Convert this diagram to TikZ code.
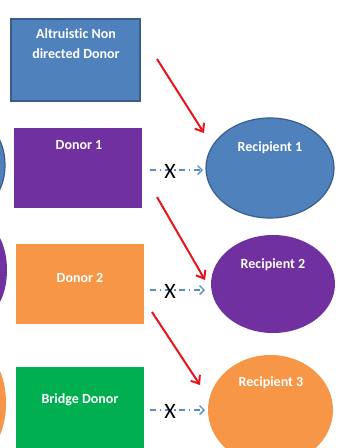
\documentclass[tikz,border=0pt]{standalone}
\usepackage{fontspec}
\setmainfont[Ligatures=NoCommon]{Carlito}
\usetikzlibrary{arrows.meta,shapes.geometric}
\definecolor{cblue}{HTML}{4F81BD}
\definecolor{cblueline}{HTML}{385D8A}
\definecolor{cpurple}{HTML}{7030A0}
\definecolor{corange}{HTML}{F79646}
\definecolor{cgreen}{HTML}{00B050}
\definecolor{cred}{HTML}{E8141C}
\definecolor{cdash}{HTML}{5A8CC6}
\tikzset{
  box/.style={rectangle, inner sep=0pt},
  oval/.style={ellipse, inner sep=0pt},
  lbl/.style={text=white, font=\fontsize{14}{20}\selectfont\bfseries, align=center, inner sep=0pt},
  redarrow/.style={cred, line width=2pt, -{Straight Barb[length=7pt,width=11pt]}},
  notarrow/.style={cdash, line width=1.4pt, dash pattern=on 6pt off 3.5pt on 1.5pt off 3.5pt, -{Straight Barb[length=4.5pt,width=9pt]}},
  cross/.style={font=\fontsize{22}{22}\selectfont, text=black, inner sep=0pt}
}
\begin{document}
\begin{tikzpicture}[x=1pt,y=-1pt]
\useasboundingbox (0,0) rectangle (342,448);
\fill[white] (0,0) rectangle (342,448);
% partial ellipses at left edge
\node[oval, fill=cblue, draw=cblueline, line width=1.2pt, minimum width=50pt, minimum height=80pt] (lb) at (-20,165) {};
\node[oval, fill=cpurple, minimum width=50pt, minimum height=92pt] (lp) at (-18,270) {};
\node[oval, fill=corange, minimum width=52pt, minimum height=100pt] (lo) at (-20,403) {};
% donors
\node[box, fill=cblue, draw=cblueline, line width=1.2pt, minimum width=129pt, minimum height=82pt] (alt) at (75.5,60) {};
\node[box, fill=cpurple, minimum width=128pt, minimum height=80pt] (d1) at (78,168) {};
\node[box, fill=corange, minimum width=128pt, minimum height=80pt] (d2) at (80,284) {};
\node[box, fill=cgreen, minimum width=128pt, minimum height=106pt] (bd) at (80,420) {};
% recipients
\node[oval, fill=cblue, draw=cblueline, line width=1.2pt, minimum width=128pt, minimum height=100pt] (r1) at (270,168) {};
\node[oval, fill=cpurple, minimum width=124pt, minimum height=98pt] (r2) at (273,284) {};
\node[oval, fill=corange, minimum width=125pt, minimum height=110pt] (r3) at (270.5,410) {};
% labels
\node[lbl] (talt) at (76,44) {Altruistic Non\\directed Donor};
\node[lbl] (td1) at (79,145) {Donor 1};
\node[lbl] (td2) at (80,278) {Donor 2};
\node[lbl] (tbd) at (80,400) {Bridge Donor};
\node[lbl] (tr1) at (270,148) {Recipient 1};
\node[lbl] (tr2) at (273,265) {Recipient 2};
\node[lbl] (tr3) at (271,383) {Recipient 3};
% red arrows
\coordinate (s1) at (157,59);  \coordinate (e1) at (204,133);
\coordinate (s2) at (157,197); \coordinate (e2) at (205,280);
\coordinate (s3) at (152,312); \coordinate (e3) at (200,385);
\draw[redarrow] (s1) -- (e1);
\draw[redarrow] (s2) -- (e2);
\draw[redarrow] (s3) -- (e3);
% blocked dashed arrows
\coordinate (a1) at (150,170); \coordinate (b1) at (203,170);
\coordinate (a2) at (150,290); \coordinate (b2) at (205,290);
\coordinate (a3) at (150,410); \coordinate (b3) at (205,410);
\draw[notarrow] (a1) -- (b1);
\draw[notarrow] (a2) -- (b2);
\draw[notarrow] (a3) -- (b3);
\node[cross] (x1) at (170,171) {X};
\node[cross] (x2) at (170,291) {X};
\node[cross] (x3) at (170,411) {X};
\end{tikzpicture}
\end{document}
